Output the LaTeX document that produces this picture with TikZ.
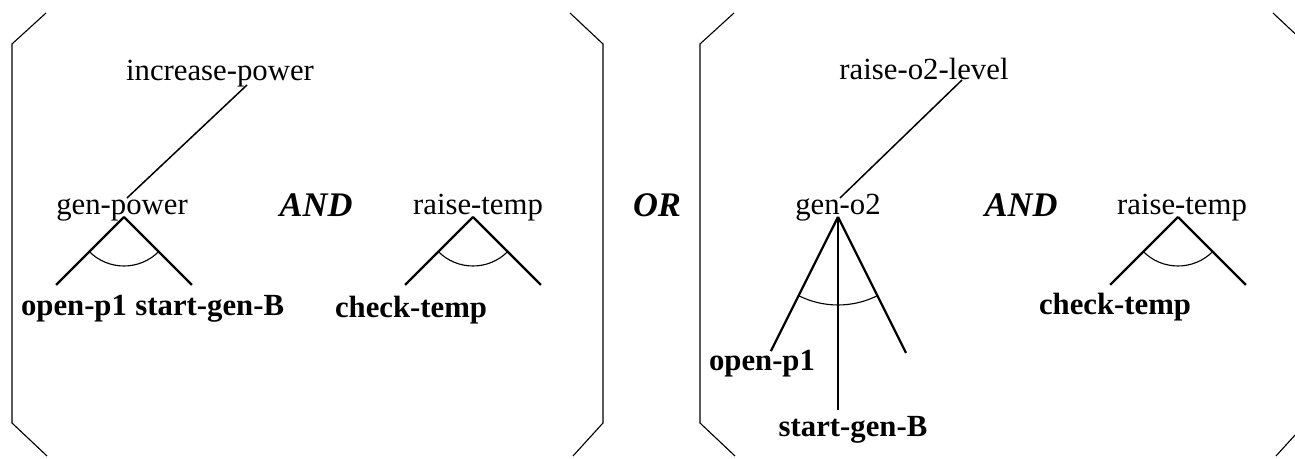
\documentclass[tikz,border=0pt]{standalone}
\usepackage{fontspec}
\setmainfont{Liberation Serif}
\usetikzlibrary{positioning}

\begin{document}
\begin{tikzpicture}[x=0.4pt,y=0.4pt,
  goal/.style={inner sep=0pt,anchor=base,font=\fontsize{12.3}{14}\selectfont},
  prim/.style={goal,font=\fontsize{12.3}{14}\selectfont\bfseries},
  conn/.style={inner sep=0pt,anchor=base,font=\fontsize{13.8}{16}\selectfont\bfseries\itshape},
  leg/.style={line width=0.9pt},
  link/.style={line width=0.6pt},
  brack/.style={line width=0.45pt},
  sweep/.style={line width=0.45pt}
]
\useasboundingbox (0,0) rectangle (1295,459);
\clip (0,0) rectangle (1295,459);

% the brackets
\foreach \l/\r in {12/603,700/1306} {
  \draw[brack] (\l+34,446) -- (\l,415) -- (\l,36) -- (\l+35,3);
  \draw[brack] (\r-33,446) -- (\r,415) -- (\r,36) -- (\r-30,3);
}

% left alternative
\node[goal] (ip) at (220,378) {increase-power};
\node[goal] (gp) at (122,244) {gen-power};
\node[prim] (op1) at (74,143) {open-p1};
\node[prim,base right=3pt of op1] (sg1) {start-gen-B};
\node[conn] (and1) at (316,242) {AND};
\node[goal] (rt1) at (478,244) {raise-temp};
\node[prim] (ct1) at (411,141) {check-temp};

\node[conn] (or) at (657,242) {OR};

% right alternative
\node[goal] (ro) at (924,379) {raise-o2-level};
\node[goal] (go) at (838,244) {gen-o2};
\node[prim] (op2) at (762,88) {open-p1};
\node[prim] (sg2) at (853,22) {start-gen-B};
\node[conn] (and2) at (1021,242) {AND};
\node[goal] (rt2) at (1182,244) {raise-temp};
\node[prim] (ct2) at (1115,144) {check-temp};

% tree tops
\coordinate (gp-top) at (124,242);
\coordinate (rt1-top) at (473,242);
\coordinate (rt2-top) at (1178,242);
\coordinate (go-top) at (838,242);

% the links
\coordinate (ip-foot) at (247,374);
\coordinate (ro-foot) at (962,379);
\draw[link] (ip-foot) -- (127,261);
\draw[link] (ro-foot) -- (840,261);

% two-way decompositions
\foreach \t in {gp-top,rt1-top,rt2-top} {
  \draw[leg] (\t) -- +(225:96);
  \draw[leg] (\t) -- +(315:96);
  \draw[sweep] (\t) ++(225:49) arc[start angle=225,end angle=315,radius=49];
}

% three-way decomposition
\draw[leg] (go-top) -- +(243.4:150);
\draw[leg] (go-top) -- +(270:193);
\draw[leg] (go-top) -- +(296.6:152);
\draw[sweep] (go-top) ++(243.4:88) arc[start angle=243.4,end angle=296.6,radius=88];
\end{tikzpicture}
\end{document}
